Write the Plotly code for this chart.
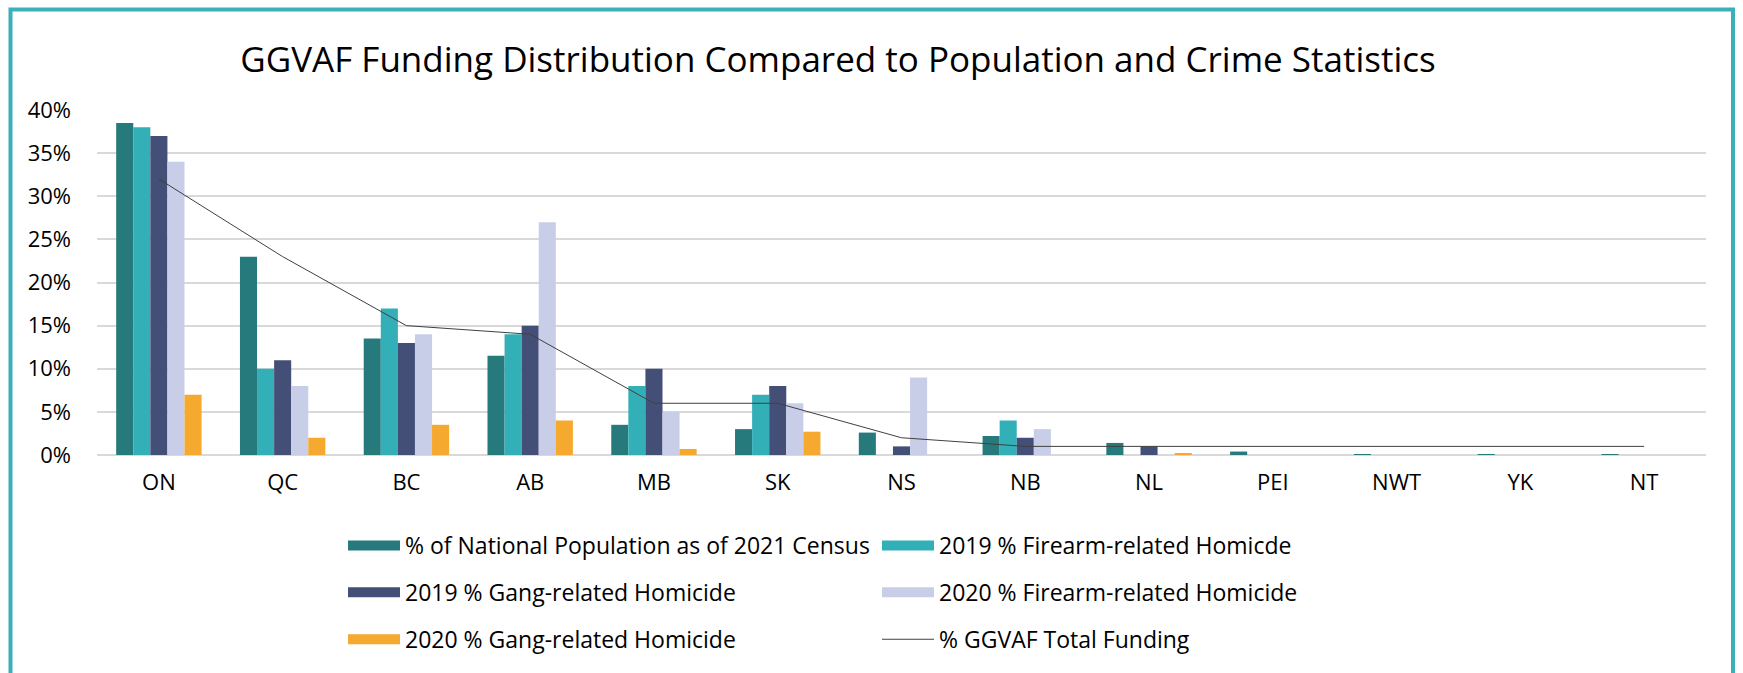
import plotly.graph_objects as go

provinces = ["ON", "QC", "BC", "AB", "MB", "SK", "NS", "NB", "NL", "PEI", "NWT", "YK", "NT"]
population_2021 = [38.5, 23.0, 13.5, 11.5, 3.5, 3.0, 2.6, 2.2, 1.4, 0.4, 0.1, 0.1, 0.1]
firearm_2019 = [38.0, 10.0, 17.0, 14.0, 8.0, 7.0, 0.0, 4.0, 0.0, 0.0, 0.0, 0.0, 0.0]
gang_2019 = [37.0, 11.0, 13.0, 15.0, 10.0, 8.0, 1.0, 2.0, 1.0, 0.0, 0.0, 0.0, 0.0]
firearm_2020 = [34.0, 8.0, 14.0, 27.0, 5.0, 6.0, 9.0, 3.0, 0.0, 0.0, 0.0, 0.0, 0.0]
gang_2020 = [7.0, 2.0, 3.5, 4.0, 0.7, 2.7, 0.0, 0.0, 0.2, 0.0, 0.0, 0.0, 0.0]
ggvaf_funding = [32.0, 23.0, 15.0, 14.0, 6.0, 6.0, 2.0, 1.0, 1.0, 1.0, 1.0, 1.0, 1.0]
y_ticks = [0, 5, 10, 15, 20, 25, 30, 35, 40]
y_tick_labels = [f"{v}%" for v in y_ticks]

FONT = "Open Sans"

fig = go.Figure()
bar_series = [
    ("% of National Population as of 2021 Census", population_2021, "#267A7C", "legend"),
    ("2019 % Firearm-related Homicde", firearm_2019, "#33AFB8", "legend2"),
    ("2019 % Gang-related Homicide", gang_2019, "#444F78", "legend"),
    ("2020 % Firearm-related Homicide", firearm_2020, "#C9CEE8", "legend2"),
    ("2020 % Gang-related Homicide", gang_2020, "#F5A92E", "legend"),
]
for name, vals, col, lg in bar_series:
    fig.add_trace(go.Bar(x=provinces, y=vals, name=name, marker_color=col,
                         marker_line_width=0, showlegend=False, legendgroup=name))
    # legend swatch (wide rectangle like the original legend keys)
    fig.add_trace(go.Scatter(x=[None], y=[None], mode="lines", name=name,
                             line=dict(color=col, width=15), legend=lg,
                             legendgroup=name, hoverinfo="skip"))

fig.add_trace(go.Scatter(x=provinces, y=ggvaf_funding, mode="lines",
                         name="% GGVAF Total Funding",
                         line=dict(color="#404040", width=1),
                         legend="legend2", legendgroup="funding"))

L, R, T, B = 97, 37, 110, 213
W, H = 1743, 673
pw = W - L - R
ph = H - T - B

def px_x(px):
    return (px - L) / pw

def px_y(py):
    return (H - B - py) / ph

legend_font = dict(size=23, family=FONT, color="#000000")

fig.update_layout(
    width=W, height=H,
    margin=dict(l=L, r=R, t=T, b=B),
    paper_bgcolor="white", plot_bgcolor="white",
    font=dict(family=FONT, color="#000000"),
    title=dict(text="GGVAF Funding Distribution Compared to Population and Crime Statistics",
               x=838 / W, xanchor="center", y=1 - 60 / H, yanchor="middle",
               font=dict(size=35, family=FONT, color="#000000")),
    barmode="group", bargap=0.31, bargroupgap=0,
    showlegend=True,
    legend=dict(x=px_x(343), y=px_y(530), xanchor="left", yanchor="top",
                orientation="v", tracegroupgap=14, itemwidth=52,
                font=legend_font, bgcolor="rgba(0,0,0,0)"),
    legend2=dict(x=px_x(877), y=px_y(530), xanchor="left", yanchor="top",
                 orientation="v", tracegroupgap=14, itemwidth=52,
                 font=legend_font, bgcolor="rgba(0,0,0,0)"),
    shapes=[dict(type="rect", xref="paper", yref="paper",
                 x0=px_x(10.5), x1=px_x(1733), y0=px_y(700), y1=px_y(8),
                 line=dict(color="#3AB0B8", width=4), fillcolor="rgba(0,0,0,0)",
                 layer="below")],
)

fig.update_xaxes(showgrid=False, showline=False, ticks="",
                 tickfont=dict(size=22, family=FONT, color="#000000"),
                 ticklabelstandoff=12)
fig.update_yaxes(range=[0, 40], tickvals=y_ticks, ticktext=y_tick_labels,
                 showgrid=True, gridcolor="#D9D9D9", gridwidth=2,
                 zeroline=True, zerolinecolor="#D9D9D9", zerolinewidth=2,
                 showline=False, ticks="",
                 tickfont=dict(size=22, family=FONT, color="#000000"),
                 ticklabelstandoff=25)

fig.write_html("out.html")
